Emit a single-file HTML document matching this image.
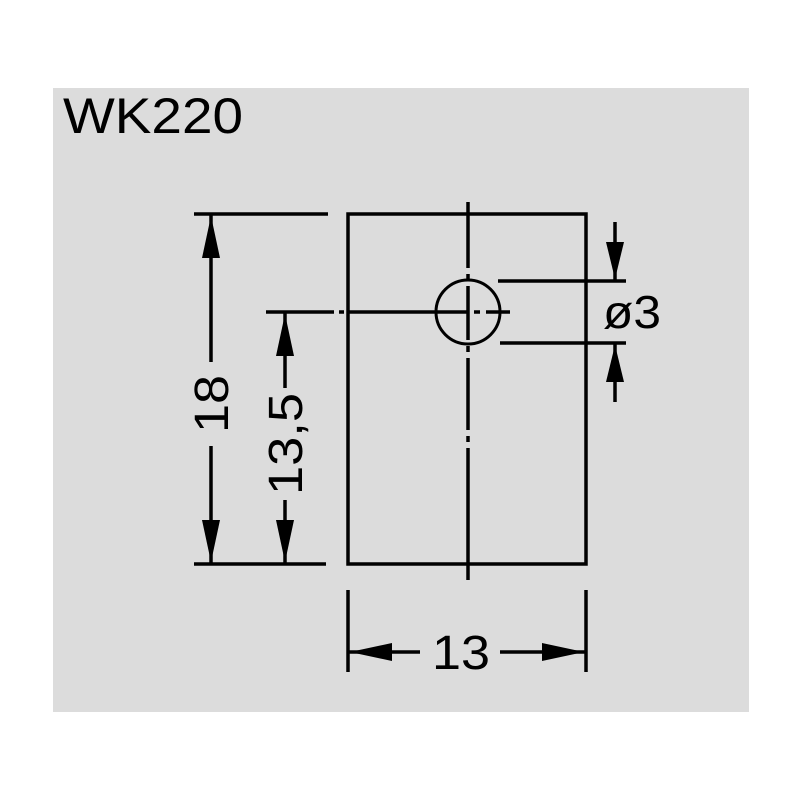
<!DOCTYPE html>
<html><head><meta charset="utf-8"><style>
html,body{margin:0;padding:0;background:#fff;}
svg{display:block;}
text{font-family:"Liberation Sans",sans-serif;fill:#000;}
</style></head><body>
<svg width="800" height="800" viewBox="0 0 800 800">
<rect x="53" y="88" width="696" height="624" fill="#dcdcdc"/>
<text x="63" y="133" font-size="50" textLength="180" lengthAdjust="spacingAndGlyphs">WK220</text>
<g stroke="#000" stroke-width="3.5" fill="none">
<rect x="348" y="214" width="238" height="350"/>
<path d="M468 202V268 M468 274V280 M468 286V340 M468 346V352 M468 358V430 M468 436V442 M468 448V580"/>
<path d="M266 312H334 M339 312H344 M348 312H468 M474 312H480 M486 312H510"/>
<circle cx="468" cy="312" r="32" stroke-width="3"/>
<path d="M194 214H328 M194 564H326 M211 214V362 M211 446V564"/>
<path d="M285 312V388 M285 500V564"/>
<path d="M498 281H626 M500 343H626 M615 222V281 M615 343V402"/>
<path d="M348 590V672 M586 590V672 M348 652H420 M500 652H586"/>
</g>
<g fill="#000">
<polygon points="211,216 202,258 220,258"/>
<polygon points="211,562 202,520 220,520"/>
<polygon points="285,314 276,356 294,356"/>
<polygon points="285,562 276,520 294,520"/>
<polygon points="615,279 606,242 624,242"/>
<polygon points="615,345 606,382 624,382"/>
<polygon points="350,652 392,643 392,661"/>
<polygon points="584,652 542,643 542,661"/>
</g>
<text x="0" y="0" font-size="48" text-anchor="middle" textLength="58" lengthAdjust="spacingAndGlyphs" transform="translate(228,404) rotate(-90)">18</text>
<text x="0" y="0" font-size="48" text-anchor="middle" textLength="102" lengthAdjust="spacingAndGlyphs" transform="translate(302,444) rotate(-90)">13,5</text>
<text x="603" y="328" font-size="46" textLength="58" lengthAdjust="spacingAndGlyphs">ø3</text>
<text x="461" y="669" font-size="48" text-anchor="middle" textLength="58" lengthAdjust="spacingAndGlyphs">13</text>
</svg>
</body></html>
